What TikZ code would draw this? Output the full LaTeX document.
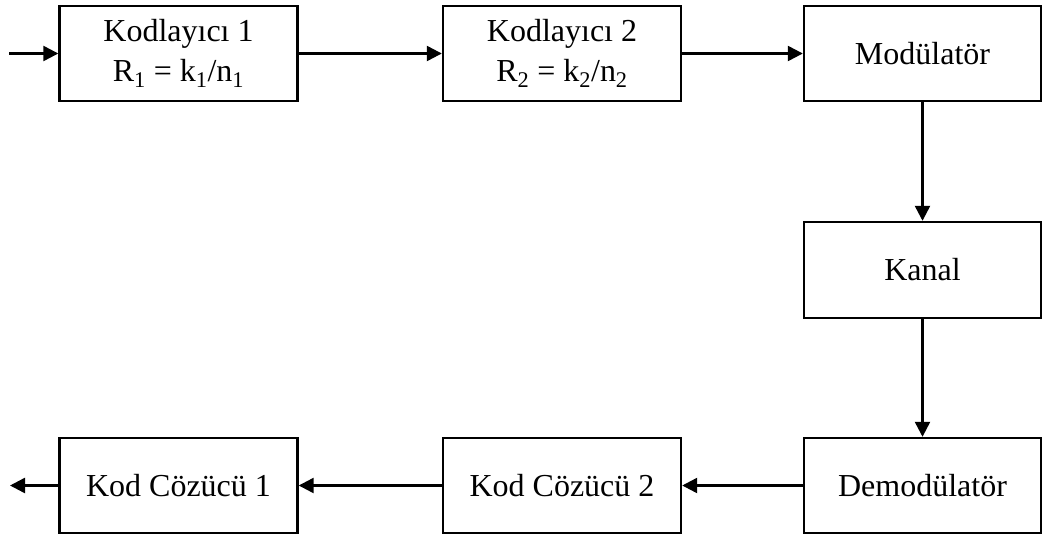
\documentclass[tikz,border=0pt]{standalone}
\usepackage{fontspec}
\setmainfont{Liberation Serif}
\usetikzlibrary{arrows.meta}
\begin{document}
\begin{tikzpicture}[x=1pt,y=-1pt,
  blockbox/.style={draw, line width=2.4pt, minimum width=238pt, minimum height=95pt,
    inner sep=0pt, align=center, font=\fontsize{32}{40}\selectfont},
  flow/.style={line width=2.4pt, -{Triangle[length=15pt,width=15pt]}}]
  \useasboundingbox (0,0) rectangle (1043,535);
  % upper row: encoders and modulator
  \node[blockbox] (enc1) at (178.5,53.5) {Kodlayıcı 1\\R\textsubscript{1} = k\textsubscript{1}/n\textsubscript{1}};
  \node[blockbox] (enc2) at (562,53.5) {Kodlayıcı 2\\R\textsubscript{2} = k\textsubscript{2}/n\textsubscript{2}};
  \node[blockbox, minimum width=237pt] (mod) at (922.5,53.5) {Modülatör};
  % channel
  \node[blockbox, minimum width=237pt, minimum height=96pt] (chan) at (922.5,270) {Kanal};
  % lower row: demodulator and decoders
  \node[blockbox, minimum width=237pt] (demod) at (922.5,485.5) {Demodülatör};
  \node[blockbox] (dec2) at (562,485.5) {Kod Cözücü 2};
  \node[blockbox] (dec1) at (178.5,485.5) {Kod Cözücü 1};
  % free ends
  \coordinate (in) at (9,53.5);
  \coordinate (out) at (10,485.5);
  % connectors
  \draw[flow] (in) -- (enc1);
  \draw[flow] (enc1) -- (enc2);
  \draw[flow] (enc2) -- (mod);
  \draw[flow] (mod) -- (chan);
  \draw[flow] (chan) -- (demod);
  \draw[flow] (demod) -- (dec2);
  \draw[flow] (dec2) -- (dec1);
  \draw[flow] (dec1) -- (out);
\end{tikzpicture}
\end{document}
